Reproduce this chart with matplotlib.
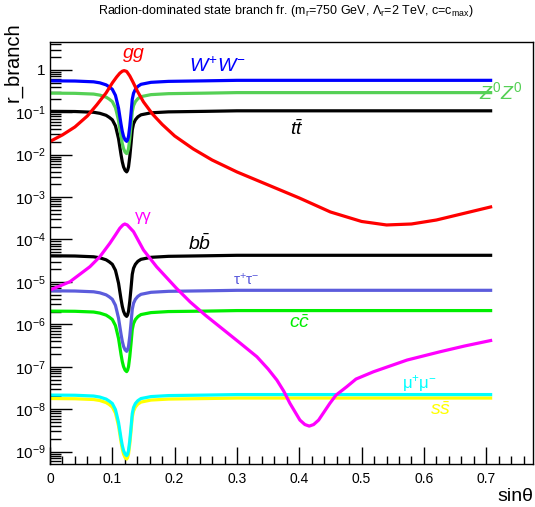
import numpy as np
import matplotlib
matplotlib.use("Agg")
import matplotlib.pyplot as plt
from matplotlib.ticker import FixedLocator, FixedFormatter, NullFormatter

plt.rcParams['font.family'] = ['Liberation Sans', 'DejaVu Sans']
plt.rcParams['mathtext.fontset'] = 'custom'
plt.rcParams['mathtext.rm'] = 'Liberation Sans'
plt.rcParams['mathtext.it'] = 'Liberation Sans:italic'
plt.rcParams['mathtext.bf'] = 'Liberation Sans:bold'

# ---------------- data ----------------
# common sin(theta) grid for the channels with the dip near 0.123
x_dip = [0, 0.04, 0.07, 0.08, 0.09, 0.095, 0.1, 0.105, 0.107, 0.11, 0.112, 0.114,
         0.116, 0.118, 0.1205, 0.123, 0.1245, 0.126, 0.128, 0.13, 0.132, 0.134,
         0.137, 0.141, 0.146, 0.162, 0.19, 0.25, 0.3, 0.5, 0.707]

br_WW = [0.550, 0.544, 0.521, 0.493, 0.442, 0.397, 0.347, 0.250, 0.190, 0.124, 0.080,
         0.0518, 0.0354, 0.0270, 0.0223, 0.0206, 0.0223, 0.0270, 0.0464, 0.0942, 0.201,
         0.279, 0.347, 0.407, 0.455, 0.507, 0.534, 0.550, 0.565, 0.565, 0.565]
br_ZZ = [0.282, 0.279, 0.268, 0.253, 0.227, 0.204, 0.178, 0.128, 0.0977, 0.0635, 0.0411,
         0.0266, 0.0182, 0.0139, 0.0115, 0.0106, 0.0115, 0.0139, 0.0238, 0.0483, 0.103,
         0.143, 0.178, 0.209, 0.233, 0.260, 0.274, 0.282, 0.29, 0.29, 0.29]
br_tt = [0.105, 0.104, 0.0997, 0.0943, 0.0846, 0.0759, 0.0663, 0.0478, 0.0364, 0.0237,
         0.0153, 0.00989, 0.00677, 0.00516, 0.00427, 0.00393, 0.00427, 0.00516, 0.00888,
         0.0180, 0.0384, 0.0532, 0.0663, 0.0779, 0.0869, 0.0969, 0.102, 0.105, 0.108,
         0.108, 0.108]
br_bb = [4.13e-5, 4.08e-5, 3.91e-5, 3.70e-5, 3.32e-5, 2.98e-5, 2.60e-5, 1.88e-5, 1.43e-5,
         9.29e-6, 6.00e-6, 3.88e-6, 2.66e-6, 2.03e-6, 1.67e-6, 1.54e-6, 1.67e-6, 2.03e-6,
         3.49e-6, 7.07e-6, 1.51e-5, 2.09e-5, 2.60e-5, 3.06e-5, 3.41e-5, 3.80e-5, 4.01e-5,
         4.13e-5, 4.24e-5, 4.24e-5, 4.24e-5]
br_tautau = [6.17e-6, 6.10e-6, 5.85e-6, 5.53e-6, 4.96e-6, 4.46e-6, 3.89e-6, 2.81e-6, 2.14e-6,
             1.39e-6, 8.98e-7, 5.81e-7, 3.98e-7, 3.03e-7, 2.50e-7, 2.31e-7, 2.50e-7, 3.03e-7,
             5.21e-7, 1.06e-6, 2.26e-6, 3.13e-6, 3.89e-6, 4.57e-6, 5.10e-6, 5.69e-6, 6.00e-6,
             6.17e-6, 6.34e-6, 6.34e-6, 6.34e-6]
br_cc = [2.05e-6, 2.03e-6, 1.95e-6, 1.84e-6, 1.65e-6, 1.48e-6, 1.30e-6, 9.35e-7, 7.11e-7,
         4.62e-7, 2.99e-7, 1.93e-7, 1.32e-7, 1.01e-7, 8.33e-8, 7.68e-8, 8.33e-8, 1.01e-7,
         1.73e-7, 3.52e-7, 7.51e-7, 1.04e-6, 1.30e-6, 1.52e-6, 1.70e-6, 1.89e-6, 2.00e-6,
         2.05e-6, 2.11e-6, 2.11e-6, 2.11e-6]
br_mumu = [2.15e-8, 2.13e-8, 2.04e-8, 1.93e-8, 1.73e-8, 1.55e-8, 1.36e-8, 9.79e-9, 7.45e-9,
           4.84e-9, 3.13e-9, 2.02e-9, 1.39e-9, 1.06e-9, 8.73e-10, 8.04e-10, 8.73e-10, 1.06e-9,
           1.82e-9, 3.68e-9, 7.87e-9, 1.09e-8, 1.36e-8, 1.59e-8, 1.78e-8, 1.98e-8, 2.09e-8,
           2.15e-8, 2.21e-8, 2.21e-8, 2.21e-8]
br_ss = [1.78e-8, 1.76e-8, 1.69e-8, 1.60e-8, 1.43e-8, 1.29e-8, 1.12e-8, 8.11e-9, 6.17e-9,
         4.01e-9, 2.59e-9, 1.68e-9, 1.15e-9, 8.75e-10, 7.23e-10, 6.66e-10, 7.23e-10, 8.75e-10,
         1.50e-9, 3.05e-9, 6.51e-9, 9.02e-9, 1.12e-8, 1.32e-8, 1.47e-8, 1.64e-8, 1.73e-8,
         1.78e-8, 1.83e-8, 1.83e-8, 1.83e-8]

x_gg = [0, 0.02, 0.04, 0.06, 0.075, 0.09, 0.1, 0.107, 0.112, 0.116, 0.119, 0.123, 0.128,
        0.133, 0.14, 0.15, 0.165, 0.18, 0.2, 0.23, 0.26, 0.3, 0.35, 0.4, 0.45, 0.5, 0.54,
        0.58, 0.62, 0.66, 0.707]
br_gg = [0.0205, 0.0292, 0.0450, 0.0818, 0.149, 0.285, 0.491, 0.680, 0.832, 0.927, 0.957,
         0.917, 0.718, 0.519, 0.318, 0.175, 0.0887, 0.0516, 0.0276, 0.0136, 0.00749,
         0.00391, 0.00193, 0.000952, 0.000445, 0.000266, 0.000220, 0.000232, 0.000288,
         0.000399, 0.000585]

x_aa = [0, 0.032, 0.064, 0.08, 0.096, 0.105, 0.112, 0.117, 0.120, 0.124, 0.134, 0.15, 0.171,
        0.203, 0.225, 0.25, 0.278, 0.305, 0.332, 0.35, 0.364, 0.375, 0.385, 0.401, 0.409,
        0.416, 0.423, 0.431, 0.449, 0.459, 0.476, 0.491, 0.519, 0.573, 0.626, 0.665, 0.707]
br_aa = [6.44e-6, 1.01e-5, 2.28e-5, 3.93e-5, 8.13e-5, 1.28e-4, 1.84e-4, 2.20e-4, 2.32e-4,
         2.20e-4, 1.53e-4, 5.65e-5, 2.28e-5, 7.06e-6, 3.36e-6, 1.61e-6, 7.54e-7, 3.62e-7,
         1.72e-7, 8.83e-8, 4.86e-8, 2.67e-8, 1.37e-8, 5.53e-9, 4.34e-9, 3.99e-9, 4.34e-9,
         5.53e-9, 1.37e-8, 2.15e-8, 3.37e-8, 5.13e-8, 7.62e-8, 1.44e-7, 2.26e-7, 3.08e-7,
         4.15e-7]

x_ticks = [0, 0.1, 0.2, 0.3, 0.4, 0.5, 0.6, 0.7]
x_ticklabels = ['0', '0.1', '0.2', '0.3', '0.4', '0.5', '0.6', '0.7']
y_ticks = [1, 1e-1, 1e-2, 1e-3, 1e-4, 1e-5, 1e-6, 1e-7, 1e-8, 1e-9]
y_ticklabels = ['1', '$10^{-1}$', '$10^{-2}$', '$10^{-3}$', '$10^{-4}$', '$10^{-5}$',
                '$10^{-6}$', '$10^{-7}$', '$10^{-8}$', '$10^{-9}$']

# ---------------- figure ----------------
W, H = 535, 507
fig = plt.figure(figsize=(W / 100, H / 100), dpi=100)
L, R, T, B = 50, 533, 41.7, 464
ax = fig.add_axes([L / W, 1 - B / H, (R - L) / W, (B - T) / H])
ax.set_yscale('log')
ax.set_xlim(0, 0.775)
ax.set_ylim(5.1e-10, 4.6)

lw = 2.3
ax.plot(x_dip, br_ss, color='#ffff00', lw=lw)
ax.plot(x_dip, br_mumu, color='#00ffff', lw=lw)
ax.plot(x_dip, br_cc, color='#00ee00', lw=lw)
ax.plot(x_dip, br_tautau, color='#5c5cdc', lw=lw)
ax.plot(x_dip, br_bb, color='black', lw=lw)
ax.plot(x_dip, br_tt, color='black', lw=lw)
ax.plot(x_dip, br_ZZ, color='#55d055', lw=lw)
ax.plot(x_dip, br_WW, color='#0000ff', lw=lw)
ax.plot(x_gg, br_gg, color='#ff0000', lw=lw)
ax.plot(x_aa, br_aa, color='#ff00ff', lw=lw)

# ticks
ax.xaxis.set_major_locator(FixedLocator(x_ticks))
ax.xaxis.set_major_formatter(FixedFormatter(x_ticklabels))
ax.xaxis.set_minor_locator(FixedLocator(np.arange(0.02, 0.775, 0.02)))
ax.yaxis.set_major_locator(FixedLocator(y_ticks))
ax.yaxis.set_major_formatter(FixedFormatter(y_ticklabels))
minors = [m * 10.0 ** e for e in range(-10, 1) for m in range(2, 10)]
ax.yaxis.set_minor_locator(FixedLocator(minors))
ax.yaxis.set_minor_formatter(NullFormatter())
ax.tick_params(axis='x', which='major', direction='in', length=12, width=1, labelsize=10, pad=6)
ax.tick_params(axis='x', which='minor', direction='in', length=6, width=1)
ax.tick_params(axis='y', which='major', direction='in', length=16, width=1, labelsize=11, pad=3)
ax.tick_params(axis='y', which='minor', direction='in', length=8, width=1)
ax.tick_params(top=False, right=False, which='both')
for s in ax.spines.values():
    s.set_linewidth(1.0)

def ftext(px, py, s, **kw):
    fig.text(px / W, 1 - py / H, s, **kw)

# title and axis titles
ftext(286, 11, r'Radion-dominated state branch fr. (m$_{\mathrm{r}}$=750 GeV, $\Lambda_{\mathrm{r}}$=2 TeV, c=c$_{\mathrm{max}}$)',
      ha='center', va='center', fontsize=9)
ftext(12.5, 22, 'r_branch', rotation=90, ha='center', va='top', fontsize=14.5)
ftext(533, 501, 'sinθ', ha='right', va='baseline', fontsize=14)

# curve labels
ftext(134, 55, r'$gg$', color='#ff0000', ha='center', va='center', fontsize=14)
ftext(218, 66, r'$W^{+}W^{-}$', color='#0000ff', ha='center', va='center', fontsize=14)
ftext(501, 92, r'$Z^{0}Z^{0}$', color='#55d055', ha='center', va='center', fontsize=14)
ftext(297, 129, r'$t\bar{t}$', color='black', ha='center', va='center', fontsize=14)
ftext(143, 217, 'γγ', color='#ff00ff', ha='center', va='center', fontsize=12)
ftext(200, 244, r'$b\bar{b}$', color='black', ha='center', va='center', fontsize=14)
ftext(246, 280, r'τ$^{+}$τ$^{-}$', color='#5c5cdc', ha='center', va='center', fontsize=11)
ftext(300, 323, r'$c\bar{c}$', color='#00ee00', ha='center', va='center', fontsize=14)
ftext(419, 384, r'μ$^{+}$μ$^{-}$', color='#00ffff', ha='center', va='center', fontsize=12)
ftext(441, 410, r'$s\bar{s}$', color='#ffff00', ha='center', va='center', fontsize=14)

fig.savefig('out.png', dpi=100)
